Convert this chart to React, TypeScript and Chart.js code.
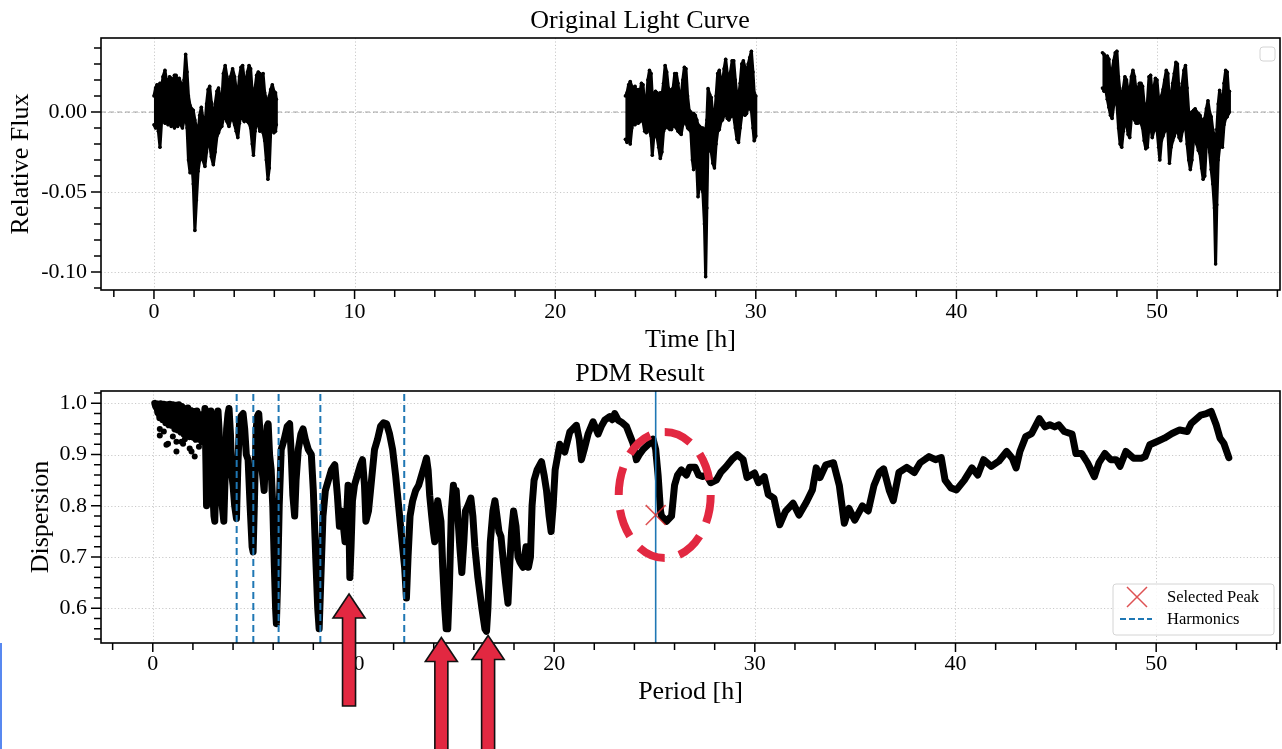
import React, { useEffect, useRef } from "react";
import { Chart, registerables } from "chart.js";

Chart.register(...registerables);

const SERIF = "'Liberation Serif', 'Times New Roman', serif";

// ---------- Original light curve: time [h], upper and lower edge of the dense flux band ----------
const seg1Time = [0.00,0.08,0.15,0.22,0.30,0.38,0.45,0.55,0.62,0.70,0.78,0.86,0.94,1.02,1.10,1.18,1.26,1.34,1.42,1.50,1.58,1.65,1.72,1.80,1.88,1.96,2.04,2.12,2.20,2.28,2.36,2.44,2.54,2.62,2.70,2.78,2.86,2.96,3.05,3.14,3.22,3.30,3.38,3.46,3.55,3.64,3.74,3.82,3.92,4.02,4.10,4.18,4.26,4.34,4.42,4.50,4.58,4.66,4.74,4.82,4.90,4.96,5.04,5.12,5.20,5.28,5.36,5.44,5.52,5.60,5.68,5.75,5.82,5.90,5.98,6.06,6.10];
const seg1Upper = [0.010,0.015,0.017,0.012,0.018,0.015,0.022,0.026,0.020,0.018,0.022,0.021,0.016,0.023,0.023,0.019,0.021,0.018,0.013,0.020,0.036,0.025,0.010,0.004,0.002,0.001,-0.005,-0.010,-0.013,-0.002,0.003,-0.004,-0.009,0.005,0.014,0.016,0.006,-0.007,0.005,0.013,0.015,0.008,0.006,0.024,0.029,0.022,0.016,0.022,0.027,0.022,0.014,0.010,0.022,0.028,0.029,0.020,0.018,0.025,0.029,0.027,0.012,0.005,0.015,0.023,0.025,0.024,0.022,0.024,0.012,0.008,0.006,0.010,0.014,0.017,0.013,0.012,0.008];
const seg1Lower = [-0.008,-0.010,-0.005,-0.012,-0.022,-0.006,-0.004,-0.007,-0.002,-0.008,-0.004,-0.009,-0.006,-0.010,-0.004,-0.009,-0.006,-0.008,-0.010,-0.005,-0.003,-0.010,-0.030,-0.038,-0.030,-0.045,-0.074,-0.055,-0.037,-0.030,-0.025,-0.030,-0.034,-0.025,-0.017,-0.020,-0.028,-0.033,-0.025,-0.015,-0.013,-0.010,-0.009,-0.004,-0.003,-0.006,-0.009,-0.005,-0.004,-0.008,-0.012,-0.016,-0.007,-0.002,-0.004,-0.006,-0.003,-0.006,-0.007,-0.010,-0.020,-0.027,-0.012,-0.005,-0.008,-0.012,-0.009,-0.013,-0.018,-0.030,-0.042,-0.035,-0.012,-0.008,-0.013,-0.012,-0.008];

const seg2Time = [23.50,23.58,23.66,23.74,23.82,23.90,23.98,24.06,24.14,24.22,24.30,24.38,24.46,24.54,24.62,24.70,24.78,24.84,24.92,25.00,25.08,25.16,25.24,25.32,25.40,25.48,25.56,25.64,25.72,25.80,25.88,25.96,26.04,26.12,26.20,26.28,26.36,26.44,26.52,26.60,26.68,26.76,26.84,26.90,26.98,27.06,27.12,27.20,27.28,27.36,27.44,27.50,27.56,27.62,27.70,27.78,27.86,27.94,28.02,28.10,28.18,28.26,28.34,28.42,28.50,28.58,28.66,28.74,28.82,28.90,28.98,29.06,29.14,29.22,29.30,29.38,29.46,29.54,29.62,29.70,29.78,29.86,29.92,30.00];
const seg2Upper = [0.010,0.012,0.017,0.019,0.016,0.015,0.016,0.012,0.014,0.012,0.018,0.017,0.004,0.006,0.020,0.026,0.024,0.010,0.011,0.013,0.012,0.010,0.012,0.010,0.018,0.029,0.025,0.015,0.012,0.014,0.015,0.024,0.024,0.018,0.009,0.010,0.020,0.028,0.027,0.010,0.001,0.000,-0.002,-0.001,-0.002,-0.005,-0.008,-0.009,-0.010,-0.010,-0.011,-0.012,-0.005,0.0146,0.011,0.009,-0.002,-0.005,0.010,0.024,0.026,0.020,0.018,0.027,0.033,0.024,0.020,0.025,0.032,0.032,0.020,0.010,0.009,0.018,0.030,0.032,0.028,0.020,0.030,0.034,0.038,0.025,0.012,0.010];
const seg2Lower = [-0.017,-0.019,-0.012,-0.020,-0.010,-0.006,-0.008,-0.005,-0.007,-0.006,-0.005,-0.006,-0.012,-0.013,-0.010,-0.012,-0.015,-0.027,-0.015,-0.014,-0.016,-0.022,-0.029,-0.025,-0.012,-0.010,-0.009,-0.010,-0.011,-0.011,-0.008,-0.009,-0.010,-0.012,-0.013,-0.014,-0.008,-0.006,-0.007,-0.010,-0.011,-0.012,-0.030,-0.036,-0.028,-0.035,-0.053,-0.045,-0.047,-0.050,-0.070,-0.103,-0.060,-0.018,-0.024,-0.025,-0.032,-0.035,-0.020,-0.012,-0.011,-0.006,-0.005,-0.002,-0.001,-0.004,-0.005,-0.003,-0.002,-0.003,-0.010,-0.017,-0.019,-0.010,-0.002,-0.001,-0.002,-0.001,0.003,0.002,0.001,-0.010,-0.018,-0.015];

const seg3Time = [47.28,47.36,47.44,47.52,47.60,47.68,47.76,47.84,47.92,48.00,48.08,48.16,48.24,48.32,48.40,48.48,48.56,48.64,48.72,48.80,48.88,48.96,49.04,49.12,49.20,49.28,49.36,49.44,49.52,49.60,49.68,49.76,49.84,49.92,50.00,50.08,50.14,50.22,50.30,50.38,50.46,50.54,50.62,50.70,50.78,50.86,50.94,51.02,51.10,51.18,51.26,51.34,51.42,51.50,51.58,51.66,51.74,51.82,51.90,51.98,52.06,52.14,52.22,52.30,52.38,52.46,52.54,52.62,52.70,52.78,52.86,52.92,52.98,53.05,53.12,53.20,53.26,53.34,53.42,53.50,53.56,53.61];
const seg3Upper = [0.037,0.036,0.034,0.035,0.033,0.020,0.026,0.032,0.037,0.038,0.022,0.012,0.010,0.015,0.022,0.020,0.013,0.012,0.022,0.026,0.022,0.013,0.014,0.018,0.018,0.016,0.005,0.003,0.006,0.022,0.023,0.010,0.015,0.021,0.020,0.008,-0.001,0.010,0.014,0.020,0.026,0.024,0.005,0.010,0.018,0.024,0.031,0.030,0.012,0.010,0.018,0.026,0.029,0.015,0.000,-0.001,0.000,0.001,0.002,0.000,-0.001,-0.002,-0.005,-0.005,-0.004,0.002,0.007,0.000,-0.003,-0.011,-0.015,-0.028,-0.011,0.005,0.0135,0.008,0.003,0.018,0.026,0.025,0.013,0.013];
const seg3Lower = [0.015,0.013,0.014,0.008,0.003,-0.002,-0.004,0.004,0.008,0.005,-0.010,-0.020,-0.022,-0.012,-0.005,-0.008,-0.014,-0.016,-0.004,-0.003,-0.005,-0.007,-0.007,-0.006,-0.007,-0.010,-0.018,-0.023,-0.022,-0.009,-0.008,-0.016,-0.012,-0.010,-0.011,-0.022,-0.030,-0.018,-0.015,-0.012,-0.011,-0.012,-0.032,-0.022,-0.018,-0.015,-0.012,-0.011,-0.016,-0.018,-0.012,-0.010,-0.009,-0.020,-0.030,-0.036,-0.030,-0.018,-0.017,-0.020,-0.024,-0.026,-0.035,-0.042,-0.040,-0.020,-0.012,-0.025,-0.036,-0.045,-0.060,-0.095,-0.058,-0.030,-0.022,-0.020,-0.022,-0.008,-0.004,-0.003,-0.001,0.000];

// ---------- PDM result: trial period [h] and dispersion ----------
const pdmPeriod = [0.10,0.15,0.20,0.25,0.30,0.35,0.40,0.45,0.50,0.55,0.60,0.65,0.70,0.75,0.80,0.85,0.90,0.95,1.00,1.05,1.10,1.15,1.20,1.25,1.30,1.35,1.40,1.45,1.50,1.55,1.60,1.65,1.70,1.75,1.80,1.85,1.90,1.95,2.00,2.05,2.10,2.15,2.20,2.25,2.30,2.35,2.40,2.45,2.50,2.55,2.60,2.65,2.68,2.72,2.78,2.85,2.90,2.95,3.00,3.05,3.09,3.14,3.20,3.25,3.30,3.38,3.46,3.54,3.60,3.68,3.75,3.80,3.87,3.94,4.00,4.08,4.17,4.24,4.32,4.40,4.50,4.58,4.66,4.75,4.85,4.95,5.00,5.06,5.15,5.22,5.28,5.35,5.42,5.50,5.55,5.62,5.70,5.75,5.82,5.90,5.98,6.06,6.12,6.16,6.22,6.30,6.40,6.55,6.70,6.82,6.90,6.98,7.07,7.14,7.25,7.38,7.49,7.60,7.75,7.90,8.00,8.12,8.22,8.29,8.36,8.48,8.60,8.75,8.90,9.07,9.20,9.30,9.40,9.50,9.58,9.66,9.73,9.78,9.82,9.88,9.95,10.05,10.20,10.35,10.45,10.55,10.62,10.75,10.90,11.05,11.20,11.35,11.50,11.65,11.80,11.95,12.10,12.25,12.40,12.55,12.64,12.72,12.82,12.95,13.10,13.25,13.40,13.55,13.64,13.72,13.80,13.90,13.98,14.05,14.12,14.20,14.28,14.36,14.45,14.55,14.62,14.70,14.78,14.88,14.98,15.05,15.12,15.20,15.30,15.40,15.50,15.58,15.70,15.85,15.95,16.05,16.20,16.40,16.55,16.63,16.70,16.82,16.95,17.05,17.15,17.25,17.35,17.45,17.58,17.70,17.78,17.88,17.98,18.10,18.20,18.30,18.45,18.60,18.72,18.82,18.90,19.00,19.15,19.37,19.50,19.62,19.75,19.85,19.95,20.05,20.28,20.53,20.78,21.11,21.25,21.36,21.50,21.69,21.94,22.19,22.35,22.52,22.77,22.90,23.02,23.19,23.40,23.60,23.80,23.93,24.10,24.25,24.43,24.70,24.93,25.06,25.18,25.30,25.35,25.60,25.85,26.00,26.15,26.34,26.59,26.75,27.03,27.20,27.40,27.60,27.80,28.08,28.30,28.56,28.85,29.13,29.42,29.61,29.99,30.18,30.47,30.67,30.95,31.24,31.53,31.91,32.20,32.58,32.87,33.06,33.25,33.54,33.92,34.21,34.46,34.69,34.98,35.36,35.65,35.94,36.22,36.42,36.70,36.90,37.18,37.57,37.95,38.24,38.68,39.00,39.29,39.48,39.77,40.05,40.44,40.82,41.11,41.40,41.78,42.16,42.55,42.83,43.02,43.21,43.50,43.79,44.18,44.46,44.70,44.94,45.14,45.42,45.81,46.00,46.29,46.58,46.92,47.15,47.44,47.73,48.01,48.20,48.49,48.87,49.26,49.45,49.68,50.02,50.41,50.79,51.17,51.55,51.75,52.22,52.51,52.74,52.99,53.18,53.37,53.62];
const pdmDispersion = [1.000,0.993,0.999,0.982,0.998,0.972,0.999,0.988,0.968,0.998,0.984,0.962,0.997,0.974,0.958,0.998,0.978,0.957,0.997,0.969,0.950,0.996,0.973,0.948,0.997,0.960,0.944,0.994,0.958,0.940,0.990,0.953,0.940,0.991,0.950,0.935,0.986,0.948,0.934,0.984,0.945,0.930,0.985,0.942,0.930,0.978,0.938,0.925,0.975,0.945,0.990,0.880,0.800,0.900,0.970,0.935,0.985,0.900,0.820,0.780,0.770,0.850,0.950,0.985,0.950,0.880,0.800,0.770,0.850,0.950,0.980,0.990,0.940,0.860,0.840,0.800,0.775,0.880,0.960,0.975,0.980,0.950,0.900,0.890,0.800,0.720,0.710,0.800,0.950,0.975,0.980,0.940,0.880,0.850,0.830,0.900,0.955,0.960,0.900,0.870,0.800,0.680,0.600,0.570,0.650,0.800,0.910,0.930,0.955,0.960,0.900,0.820,0.780,0.850,0.910,0.940,0.950,0.930,0.910,0.900,0.830,0.700,0.600,0.560,0.640,0.780,0.830,0.850,0.870,0.880,0.820,0.760,0.790,0.760,0.730,0.780,0.840,0.760,0.660,0.720,0.810,0.840,0.860,0.880,0.890,0.840,0.770,0.790,0.850,0.910,0.930,0.955,0.962,0.960,0.940,0.910,0.860,0.800,0.740,0.680,0.620,0.700,0.780,0.810,0.830,0.840,0.860,0.880,0.893,0.870,0.820,0.780,0.750,0.730,0.780,0.810,0.790,0.770,0.680,0.600,0.560,0.560,0.640,0.790,0.840,0.820,0.830,0.780,0.720,0.670,0.730,0.790,0.800,0.815,0.780,0.720,0.660,0.600,0.560,0.555,0.600,0.730,0.790,0.810,0.780,0.750,0.740,0.700,0.650,0.610,0.680,0.750,0.790,0.760,0.700,0.690,0.680,0.720,0.680,0.700,0.800,0.850,0.870,0.886,0.860,0.830,0.780,0.750,0.800,0.870,0.920,0.905,0.944,0.957,0.930,0.890,0.910,0.940,0.964,0.940,0.955,0.967,0.974,0.968,0.980,0.967,0.962,0.955,0.935,0.922,0.890,0.900,0.910,0.920,0.930,0.910,0.860,0.790,0.780,0.770,0.780,0.840,0.860,0.870,0.860,0.875,0.875,0.860,0.857,0.860,0.845,0.850,0.865,0.876,0.890,0.900,0.890,0.855,0.864,0.845,0.857,0.822,0.815,0.763,0.789,0.805,0.782,0.808,0.831,0.874,0.855,0.880,0.884,0.840,0.766,0.795,0.772,0.800,0.790,0.840,0.866,0.872,0.830,0.810,0.865,0.875,0.865,0.884,0.896,0.890,0.894,0.850,0.835,0.831,0.850,0.874,0.860,0.890,0.877,0.887,0.906,0.893,0.874,0.906,0.935,0.941,0.970,0.954,0.958,0.954,0.958,0.945,0.940,0.902,0.902,0.884,0.857,0.884,0.902,0.890,0.890,0.877,0.906,0.893,0.893,0.896,0.919,0.925,0.932,0.941,0.948,0.945,0.961,0.977,0.980,0.984,0.958,0.932,0.922,0.894];

// isolated low points of the short-period cloud
const pdmCloudPeriod = [0.35,0.35,0.55,0.68,0.76,1.00,1.18,1.18,1.43,1.51,1.60,1.84,1.93,2.09,2.30];
const pdmCloudDispersion = [0.950,0.937,0.945,0.919,0.921,0.935,0.906,0.925,0.925,0.921,0.930,0.912,0.906,0.896,0.915];

const harmonicPeriods = [12.53, 8.35, 6.27, 5.01, 4.18];
const selectedPeriod = 25.06;
const selectedDispersion = 0.782;

// annotation anchors (period, dispersion)
const arrowPeriods = [9.78, 14.38, 16.71];
const arrowTipDispersion = [0.628, 0.543, 0.547];
const ellipseCenter = { period: 25.51, dispersion: 0.821 };

// ---------- axes ----------
const timeRange = { min: -2.64, max: 56.13 };
const fluxRange = { min: -0.11125, max: 0.04625 };
const periodRange = { min: -2.58, max: 56.17 };
const dispRange = { min: 0.5323, max: 1.024 };

const xMajorTicks = [0, 10, 20, 30, 40, 50];
const xMinorTicks = [-2, 2, 4, 6, 8, 12, 14, 16, 18, 22, 24, 26, 28, 32, 34, 36, 38, 42, 44, 46, 48, 52, 54, 56];
const fluxMajorTicks = [0, -0.05, -0.1];
const fluxMinorTicks = [0.04, 0.03, 0.02, 0.01, -0.01, -0.02, -0.03, -0.04, -0.06, -0.07, -0.08, -0.09, -0.11];
const dispMajorTicks = [0.6, 0.7, 0.8, 0.9, 1.0];
const dispMinorTicks = [0.54, 0.56, 0.58, 0.62, 0.64, 0.66, 0.68, 0.72, 0.74, 0.76, 0.78, 0.82, 0.84, 0.86, 0.88, 0.92, 0.94, 0.96, 0.98, 1.02];

const BLUE = "#1f77b4";
const CRIMSON = "rgb(226,40,65)";
const PEAK_RED = "rgba(214,39,40,0.8)";

const pts = (xs: number[], ys: number[]) => xs.map((x, i) => ({ x, y: ys[i] }));

type FrameCfg = {
  xMajor: number[];
  xMinor: number[];
  yMajor: number[];
  yMinor: number[];
  after?: (chart: any) => void;
};

function makeFrame(cfg: FrameCfg) {
  return {
    id: "frame",
    beforeDatasetsDraw(chart: any) {
      const { ctx, chartArea: ca, scales } = chart;
      const x = scales.x;
      const y = scales.y;
      ctx.save();
      ctx.strokeStyle = "#c4c4c4";
      ctx.lineWidth = 0.9;
      ctx.setLineDash([1.2, 2.2]);
      ctx.beginPath();
      cfg.xMajor.forEach((v) => {
        const px = Math.round(x.getPixelForValue(v)) + 0.5;
        ctx.moveTo(px, ca.top);
        ctx.lineTo(px, ca.bottom);
      });
      cfg.yMajor.forEach((v) => {
        const py = Math.round(y.getPixelForValue(v)) + 0.5;
        ctx.moveTo(ca.left, py);
        ctx.lineTo(ca.right, py);
      });
      ctx.stroke();
      ctx.restore();
    },
    afterDraw(chart: any) {
      const { ctx, chartArea: ca, scales } = chart;
      const x = scales.x;
      const y = scales.y;
      ctx.save();
      ctx.setLineDash([]);
      ctx.strokeStyle = "#000";
      ctx.lineWidth = 1.5;
      ctx.beginPath();
      const xt = (v: number, len: number) => {
        const px = x.getPixelForValue(v);
        ctx.moveTo(px, ca.bottom);
        ctx.lineTo(px, ca.bottom + len);
      };
      const yt = (v: number, len: number) => {
        const py = y.getPixelForValue(v);
        ctx.moveTo(ca.left, py);
        ctx.lineTo(ca.left - len, py);
      };
      cfg.xMajor.forEach((v) => xt(v, 9));
      cfg.xMinor.forEach((v) => xt(v, 7));
      cfg.yMajor.forEach((v) => yt(v, 10));
      cfg.yMinor.forEach((v) => yt(v, 7));
      ctx.stroke();
      ctx.lineWidth = 1.6;
      ctx.strokeRect(ca.left, ca.top, ca.right - ca.left, ca.bottom - ca.top);
      ctx.restore();
      if (cfg.after) cfg.after(chart);
    },
  };
}

function roundRect(ctx: CanvasRenderingContext2D, x: number, y: number, w: number, h: number, r: number) {
  ctx.beginPath();
  ctx.moveTo(x + r, y);
  ctx.lineTo(x + w - r, y);
  ctx.quadraticCurveTo(x + w, y, x + w, y + r);
  ctx.lineTo(x + w, y + h - r);
  ctx.quadraticCurveTo(x + w, y + h, x + w - r, y + h);
  ctx.lineTo(x + r, y + h);
  ctx.quadraticCurveTo(x, y + h, x, y + h - r);
  ctx.lineTo(x, y + r);
  ctx.quadraticCurveTo(x, y, x + r, y);
  ctx.closePath();
}

function drawUpArrow(ctx: CanvasRenderingContext2D, xTip: number, yTip: number, length: number) {
  const headLen = 24;
  const headW = 32;
  const shaftW = 13;
  ctx.beginPath();
  ctx.moveTo(xTip, yTip);
  ctx.lineTo(xTip + headW / 2, yTip + headLen);
  ctx.lineTo(xTip + shaftW / 2, yTip + headLen);
  ctx.lineTo(xTip + shaftW / 2, yTip + length);
  ctx.lineTo(xTip - shaftW / 2, yTip + length);
  ctx.lineTo(xTip - shaftW / 2, yTip + headLen);
  ctx.lineTo(xTip - headW / 2, yTip + headLen);
  ctx.closePath();
  ctx.fillStyle = CRIMSON;
  ctx.fill();
  ctx.lineWidth = 1.6;
  ctx.strokeStyle = "#111";
  ctx.lineJoin = "miter";
  ctx.stroke();
}

const tickFont = { family: SERIF, size: 22 };
const labelFont = { family: SERIF, size: 26, weight: "normal" as const };

// closed outline of a band: upper edge forward, lower edge backward
function bandDataset(time: number[], upper: number[], lower: number[]) {
  const outline = pts(time, upper).concat(pts(time, lower).reverse());
  return {
    type: "line",
    data: outline,
    fill: "shape",
    borderColor: "#000",
    backgroundColor: "#000",
    borderWidth: 3,
    borderJoinStyle: "round",
    pointRadius: 1.8,
    pointBorderWidth: 0,
    pointBackgroundColor: "#000",
    tension: 0,
  };
}

function topConfig(): any {
  const frame = makeFrame({
    xMajor: xMajorTicks,
    xMinor: xMinorTicks,
    yMajor: fluxMajorTicks,
    yMinor: fluxMinorTicks,
    after: (chart: any) => {
      const { ctx, chartArea: ca } = chart;
      ctx.save();
      roundRect(ctx, ca.right - 20, ca.top + 9, 15, 14, 3);
      ctx.fillStyle = "rgba(255,255,255,0.8)";
      ctx.fill();
      ctx.strokeStyle = "#d4d4d4";
      ctx.lineWidth = 1;
      ctx.stroke();
      ctx.restore();
    },
  });
  return {
    type: "line",
    data: {
      datasets: [
        bandDataset(seg1Time, seg1Upper, seg1Lower),
        bandDataset(seg2Time, seg2Upper, seg2Lower),
        bandDataset(seg3Time, seg3Upper, seg3Lower),
        {
          type: "line",
          data: [{ x: timeRange.min, y: 0 }, { x: timeRange.max, y: 0 }],
          borderColor: "rgba(128,128,128,0.7)",
          borderWidth: 1,
          borderDash: [5, 3],
          pointRadius: 0,
          fill: false,
        },
      ],
    },
    options: {
      responsive: false,
      animation: false,
      devicePixelRatio: 1,
      events: [],
      layout: { autoPadding: false, padding: { left: 0, right: 2, top: 0, bottom: 0 } },
      plugins: {
        legend: { display: false },
        tooltip: { enabled: false },
        title: {
          display: true,
          text: "Original Light Curve",
          color: "#000",
          font: labelFont,
          padding: { top: 6, bottom: 0.8 },
        },
      },
      scales: {
        x: {
          type: "linear",
          min: timeRange.min,
          max: timeRange.max,
          grid: { display: false, drawTicks: false },
          border: { display: false },
          afterBuildTicks: (s: any) => {
            s.ticks = xMajorTicks.map((v) => ({ value: v }));
          },
          afterFit: (s: any) => {
            s.height = 66;
          },
          ticks: {
            autoSkip: false,
            maxRotation: 0,
            padding: 9,
            color: "#000",
            font: tickFont,
            callback: (v: any) => String(v),
          },
          title: {
            display: true,
            text: "Time [h]",
            color: "#000",
            font: labelFont,
            padding: { top: 0, bottom: 0 },
          },
        },
        y: {
          type: "linear",
          min: fluxRange.min,
          max: fluxRange.max,
          grid: { display: false, drawTicks: false },
          border: { display: false },
          afterBuildTicks: (s: any) => {
            s.ticks = fluxMajorTicks.map((v) => ({ value: v }));
          },
          afterFit: (s: any) => {
            s.width = 101;
          },
          ticks: {
            autoSkip: false,
            padding: 14,
            color: "#000",
            font: tickFont,
            callback: (v: any) => Number(v).toFixed(2),
          },
          title: {
            display: true,
            text: "Relative Flux",
            color: "#000",
            font: labelFont,
            padding: { top: 6, bottom: 0 },
          },
        },
      },
    },
    plugins: [frame],
  };
}

function bottomConfig(): any {
  const frame = makeFrame({
    xMajor: xMajorTicks,
    xMinor: xMinorTicks,
    yMajor: dispMajorTicks,
    yMinor: dispMinorTicks,
    after: (chart: any) => {
      const { ctx, chartArea: ca, scales } = chart;
      const x = scales.x;
      const y = scales.y;
      ctx.save();
      // legend
      const lw = 161;
      const lh = 51;
      const lx = ca.right - 6 - lw;
      const ly = ca.bottom - 8 - lh;
      roundRect(ctx, lx, ly, lw, lh, 3);
      ctx.fillStyle = "rgba(255,255,255,0.85)";
      ctx.fill();
      ctx.strokeStyle = "#d4d4d4";
      ctx.lineWidth = 1;
      ctx.stroke();
      const mx = lx + 24;
      const my1 = ly + 13;
      const my2 = ly + 35;
      ctx.strokeStyle = PEAK_RED;
      ctx.lineWidth = 1.5;
      ctx.beginPath();
      ctx.moveTo(mx - 10, my1 - 10);
      ctx.lineTo(mx + 10, my1 + 10);
      ctx.moveTo(mx - 10, my1 + 10);
      ctx.lineTo(mx + 10, my1 - 10);
      ctx.stroke();
      ctx.strokeStyle = BLUE;
      ctx.lineWidth = 2;
      ctx.setLineDash([6, 3]);
      ctx.beginPath();
      ctx.moveTo(lx + 7, my2);
      ctx.lineTo(lx + 39, my2);
      ctx.stroke();
      ctx.setLineDash([]);
      ctx.fillStyle = "#000";
      ctx.font = `16.5px ${SERIF}`;
      ctx.textBaseline = "middle";
      ctx.textAlign = "left";
      ctx.fillText("Selected Peak", lx + 54, my1 + 1);
      ctx.fillText("Harmonics", lx + 54, my2 + 1);

      // dashed ellipse around the selected peak
      const cx = x.getPixelForValue(ellipseCenter.period);
      const cy = y.getPixelForValue(ellipseCenter.dispersion);
      ctx.beginPath();
      ctx.ellipse(cx, cy, 46, 63, 0, 0, Math.PI * 2);
      ctx.setLineDash([28, 15]);
      ctx.lineDashOffset = 0;
      ctx.lineWidth = 8;
      ctx.strokeStyle = CRIMSON;
      ctx.stroke();
      ctx.setLineDash([]);

      // arrows
      arrowPeriods.forEach((p, i) => {
        const ax = x.getPixelForValue(p);
        const ay = y.getPixelForValue(arrowTipDispersion[i]);
        drawUpArrow(ctx, ax, ay, i === 0 ? 112 : 140);
      });
      ctx.restore();
    },
  });
  return {
    type: "scatter",
    data: {
      datasets: [
        {
          label: "Selected Peak",
          data: [{ x: selectedPeriod, y: selectedDispersion }],
          pointStyle: "crossRot",
          pointRadius: 14,
          borderColor: PEAK_RED,
          borderWidth: 1.5,
          backgroundColor: PEAK_RED,
        },
        {
          label: "Selected period",
          data: [{ x: selectedPeriod, y: dispRange.min }, { x: selectedPeriod, y: dispRange.max }],
          showLine: true,
          borderColor: BLUE,
          borderWidth: 1.6,
          pointRadius: 0,
        },
        ...harmonicPeriods.map((h) => ({
          label: "Harmonics",
          data: [{ x: h, y: dispRange.min }, { x: h, y: dispRange.max }],
          showLine: true,
          borderColor: BLUE,
          borderWidth: 2,
          borderDash: [7, 4],
          pointRadius: 0,
        })),
        {
          label: "cloud",
          data: pts(pdmCloudPeriod, pdmCloudDispersion),
          pointRadius: 3,
          pointBorderWidth: 0,
          backgroundColor: "#000",
          borderColor: "#000",
        },
        {
          label: "PDM",
          data: pts(pdmPeriod, pdmDispersion),
          showLine: true,
          borderColor: "#000",
          backgroundColor: "#000",
          borderWidth: 7,
          borderJoinStyle: "round",
          borderCapStyle: "round",
          pointRadius: 0,
          tension: 0,
        },
      ],
    },
    options: {
      responsive: false,
      animation: false,
      devicePixelRatio: 1,
      events: [],
      layout: { autoPadding: false, padding: { left: 0, right: 2, top: 0, bottom: 0 } },
      plugins: {
        legend: { display: false },
        tooltip: { enabled: false },
        title: {
          display: true,
          text: "PDM Result",
          color: "#000",
          font: labelFont,
          padding: { top: 3, bottom: 0.8 },
        },
      },
      scales: {
        x: {
          type: "linear",
          min: periodRange.min,
          max: periodRange.max,
          grid: { display: false, drawTicks: false },
          border: { display: false },
          afterBuildTicks: (s: any) => {
            s.ticks = xMajorTicks.map((v) => ({ value: v }));
          },
          afterFit: (s: any) => {
            s.height = 106;
          },
          ticks: {
            autoSkip: false,
            maxRotation: 0,
            padding: 8,
            color: "#000",
            font: tickFont,
            callback: (v: any) => String(v),
          },
          title: {
            display: true,
            text: "Period [h]",
            color: "#000",
            font: labelFont,
            padding: { top: 0, bottom: 41.4 },
          },
        },
        y: {
          type: "linear",
          min: dispRange.min,
          max: dispRange.max,
          grid: { display: false, drawTicks: false },
          border: { display: false },
          afterBuildTicks: (s: any) => {
            s.ticks = dispMajorTicks.map((v) => ({ value: v }));
          },
          afterFit: (s: any) => {
            s.width = 101;
          },
          ticks: {
            autoSkip: false,
            padding: 14,
            color: "#000",
            font: tickFont,
            callback: (v: any) => Number(v).toFixed(1),
          },
          title: {
            display: true,
            text: "Dispersion",
            color: "#000",
            font: labelFont,
            padding: { top: 26, bottom: 0 },
          },
        },
      },
    },
    plugins: [frame],
  };
}

export default function App() {
  const topRef = useRef<HTMLCanvasElement>(null);
  const botRef = useRef<HTMLCanvasElement>(null);

  useEffect(() => {
    Chart.defaults.font.family = SERIF;
    Chart.defaults.color = "#000";
    const top = new Chart(topRef.current as HTMLCanvasElement, topConfig());
    const bot = new Chart(botRef.current as HTMLCanvasElement, bottomConfig());
    return () => {
      top.destroy();
      bot.destroy();
    };
  }, []);

  return (
    <div
      style={{
        position: "absolute",
        left: 0,
        top: 0,
        width: 1282,
        height: 749,
        background: "#fff",
        overflow: "hidden",
      }}
    >
      <canvas
        ref={topRef}
        width={1282}
        height={356}
        style={{ position: "absolute", left: 0, top: 0, width: 1282, height: 356 }}
      />
      <canvas
        ref={botRef}
        width={1282}
        height={393}
        style={{ position: "absolute", left: 0, top: 356, width: 1282, height: 393 }}
      />
      <div
        style={{
          position: "absolute",
          left: 0,
          top: 643,
          width: 2,
          height: 106,
          background: "rgb(88,136,240)",
        }}
      />
    </div>
  );
}
